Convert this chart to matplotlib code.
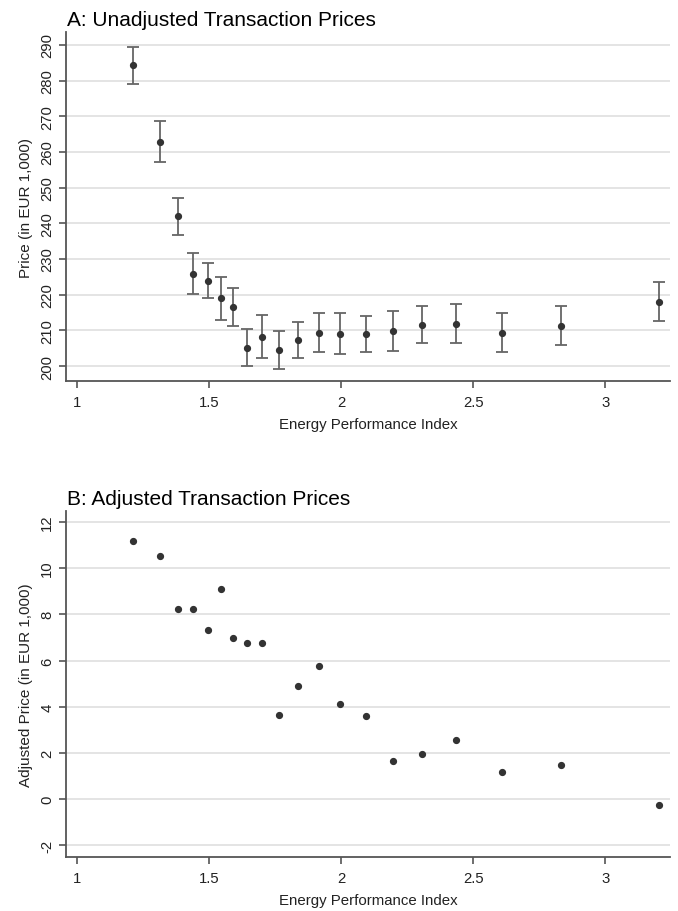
import numpy as np
import matplotlib.pyplot as plt

plt.rcParams['font.family'] = ['Liberation Sans', 'DejaVu Sans']

# energy performance index bins (same for both panels)
epi = [1.211, 1.314, 1.384, 1.441, 1.497, 1.546, 1.592, 1.645, 1.702, 1.764,
       1.838, 1.918, 1.996, 2.093, 2.198, 2.308, 2.436, 2.609, 2.832, 3.205]

# panel A: unadjusted prices with confidence bands
price = [284.4, 262.9, 242.0, 225.9, 223.8, 219.1, 216.6, 205.1, 208.2, 204.5,
         207.3, 209.4, 209.1, 209.0, 209.9, 211.6, 211.8, 209.4, 211.3, 218.0]
price_hi = [289.4, 268.6, 247.1, 231.6, 228.8, 224.9, 222.0, 210.3, 214.3, 209.9,
            212.4, 214.8, 214.8, 213.9, 215.5, 216.9, 217.3, 214.8, 216.9, 223.5]
price_lo = [279.1, 257.3, 236.7, 220.2, 219.0, 213.0, 211.3, 200.0, 202.2, 199.2,
            202.3, 203.8, 203.5, 203.8, 204.3, 206.4, 206.4, 203.8, 205.9, 212.6]

# panel B: adjusted prices
adj_price = [11.18, 10.51, 8.23, 8.23, 7.34, 9.09, 6.98, 6.75, 6.75, 3.66,
             4.91, 5.76, 4.14, 3.60, 1.64, 1.95, 2.58, 1.18, 1.48, -0.26]

x_ticks = [1, 1.5, 2, 2.5, 3]
x_ticklabels = ['1', '1.5', '2', '2.5', '3']
yticks_a = list(range(200, 300, 10))
yticks_b = [-2, 0, 2, 4, 6, 8, 10, 12]

fig = plt.figure(figsize=(6.78, 9.12), dpi=100)
ax1 = fig.add_axes([0.0973, 0.5811, 0.891, 0.3827])
ax2 = fig.add_axes([0.0973, 0.0592, 0.891, 0.3794])

spine_col = '#555555'
grid_col = '#e2e2e2'
text_col = '#222222'


def style(ax, yticks):
    ax.set_xlim(0.958, 3.246)
    ax.set_xticks(x_ticks)
    ax.set_xticklabels(x_ticklabels)
    ax.set_yticks(yticks)
    ax.set_yticklabels([str(t) for t in yticks], rotation=90, va='center')
    ax.spines['top'].set_visible(False)
    ax.spines['right'].set_visible(False)
    for s in ['left', 'bottom']:
        ax.spines[s].set_color(spine_col)
        ax.spines[s].set_linewidth(1.3)
    ax.tick_params(colors=spine_col, labelcolor=text_col, length=5, width=1.2, labelsize=10.7)
    ax.tick_params(axis='x', pad=5)
    ax.grid(axis='y', color=grid_col, linewidth=1.3)
    ax.set_axisbelow(True)
    ax.set_xlabel('Energy Performance Index', fontsize=10.8, color=text_col, labelpad=6)


err = [np.array(price) - np.array(price_lo), np.array(price_hi) - np.array(price)]
ax1.errorbar(epi, price, yerr=err, fmt='o', color='#333333', ecolor='#666666',
             elinewidth=1.3, capsize=4.5, capthick=1.3, markersize=4.2)
style(ax1, yticks_a)
ax1.set_ylim(195.8, 293.6)
ax1.set_ylabel('Price (in EUR 1,000)', fontsize=11, color=text_col, labelpad=5)
ax1.set_title('A: Unadjusted Transaction Prices', loc='left', fontsize=15, x=0.002, pad=5)

ax2.plot(epi, adj_price, 'o', color='#333333', markersize=4.2)
style(ax2, yticks_b)
ax2.set_ylim(-2.5, 12.47)
ax2.set_ylabel('Adjusted Price (in EUR 1,000)', fontsize=11, color=text_col, labelpad=5)
ax2.set_title('B: Adjusted Transaction Prices', loc='left', fontsize=15, x=0.002, pad=5)

fig.savefig('out.png', dpi=100)
